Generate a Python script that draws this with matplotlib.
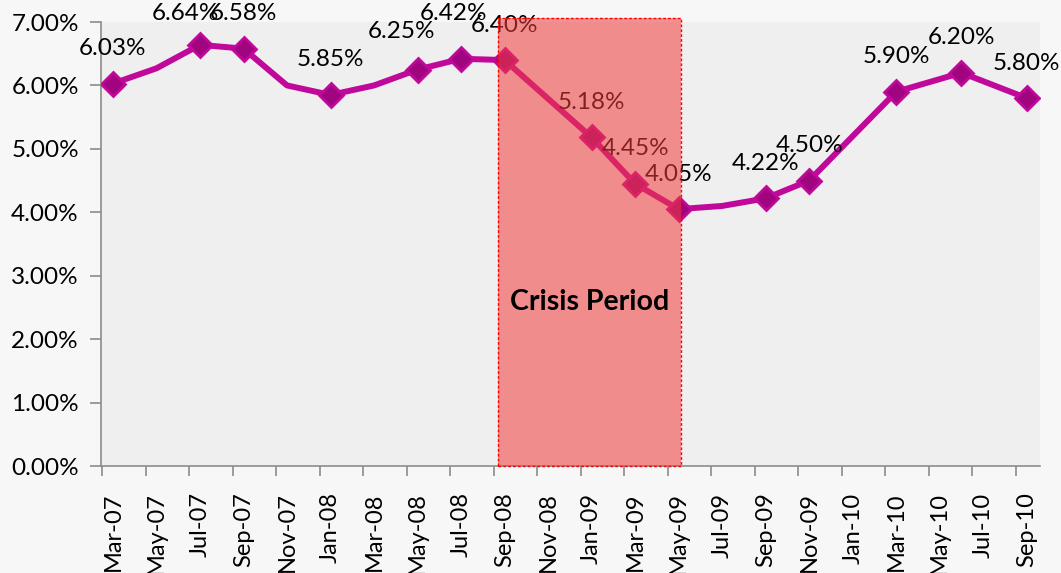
import pandas as pd
import matplotlib
matplotlib.use("Agg")
import matplotlib.pyplot as plt
from matplotlib.patches import Rectangle
from matplotlib.ticker import FuncFormatter, FixedLocator

plt.rcParams["font.family"] = ["Lato", "DejaVu Sans"]

# series (month, rate %) - points without a marker are plain line vertices
months = ["2007-03", "2007-05", "2007-07", "2007-09", "2007-11", "2008-01",
          "2008-03", "2008-05", "2008-07", "2008-09", "2009-01", "2009-03",
          "2009-05", "2009-07", "2009-09", "2009-11", "2010-03", "2010-06",
          "2010-09"]
rates = [6.03, 6.27, 6.64, 6.58, 6.00, 5.85, 6.00, 6.25, 6.42, 6.40, 5.18,
         4.45, 4.05, 4.10, 4.22, 4.50, 5.90, 6.20, 5.80]
marked = [True, False, True, True, False, True, False, True, True, True,
          True, True, True, False, True, True, True, True, True]

tick_months = pd.period_range("2007-03", "2010-09", freq="M")[::2]
crisis_start, crisis_end = "2008-09", "2009-05"

start = pd.Period("2007-03", "M")
def midx(m):
    return (pd.Period(m, "M") - start).n

x = [midx(m) for m in months]

# manual nudges for a few labels (pixels)
nudge = {"2007-07": (-15, 31), "2008-05": (-16, 38), "2008-07": (-8, 45)}

fig = plt.figure(figsize=(10.61, 5.73), dpi=100, facecolor="#f7f7f7")
ax = fig.add_axes([0.0952, 0.1867, 0.8848, 0.7749])
ax.set_facecolor("#efefef")

line_c = "#c0089a"
ax.plot(x, rates, color=line_c, lw=4.3, zorder=3, solid_joinstyle="round")
mx = [xi for xi, m in zip(x, marked) if m]
my = [r for r, m in zip(rates, marked) if m]
ax.plot(mx, my, ls="none", marker="D", ms=12.5, mfc="#a0047f", mec=line_c,
        mew=2, zorder=4)

for m, xi, r, mk in zip(months, x, rates, marked):
    if not mk:
        continue
    dx, dy = nudge.get(m, (0, 35))
    ax.annotate(f"{r:.2f}%", (xi, r), xytext=(dx, dy), textcoords="offset pixels",
                ha="center", va="center", fontsize=17.5, color="black",
                zorder=5, annotation_clip=False)

# crisis overlay on top of line and labels
x0 = midx(crisis_start) - 0.3
x1 = midx(crisis_end) + 0.1
ax.add_patch(Rectangle((x0, 0), x1 - x0, 7.07, facecolor="#f23c3c", alpha=0.55,
                       edgecolor="none", zorder=6, clip_on=False))
ax.add_patch(Rectangle((x0, 0), x1 - x0, 7.07, facecolor="none",
                       edgecolor="#ff0000", lw=1, ls=(0, (2, 1.5)), zorder=7,
                       clip_on=False))
ax.text((x0 + x1) / 2, 2.59, "Crisis Period", ha="center", va="center",
        fontsize=20.5, fontweight="bold", color="black", zorder=8)

ax.set_xlim(-0.55, 42.6)
ax.set_ylim(0, 7)
ax.set_yticks([i for i in range(8)])
ax.yaxis.set_major_formatter(FuncFormatter(lambda v, p: f"{v:.2f}%"))

tx = [(p - start).n for p in tick_months]
ax.set_xticks(tx)
ax.set_xticklabels([p.strftime("%b-%y") for p in tick_months], rotation=90)
ax.xaxis.set_minor_locator(FixedLocator([t - 0.5 for t in tx]))
ax.tick_params(axis="x", which="major", length=0, pad=19, labelsize=17)
ax.tick_params(axis="x", which="minor", length=7, width=1.2, color="#8c8c8c")
ax.tick_params(axis="y", length=8, width=1.2, color="#8c8c8c", pad=8,
               labelsize=17.5)

for s in ["top", "right"]:
    ax.spines[s].set_visible(False)
for s in ["left", "bottom"]:
    ax.spines[s].set_color("#8c8c8c")
    ax.spines[s].set_linewidth(1.2)

fig.savefig("out.png", dpi=100, facecolor=fig.get_facecolor())
